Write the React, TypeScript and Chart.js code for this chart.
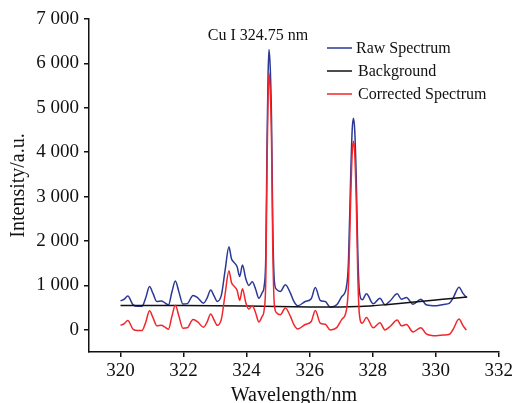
import React, { useEffect, useRef } from 'react';
import { Chart, registerables } from 'chart.js';

Chart.register(...registerables);

// ---- data ----
const wavelength = [
  320.00, 320.12, 320.23, 320.40, 320.55, 320.68, 320.80, 320.92, 321.03, 321.15,
  321.30, 321.40, 321.52, 321.63, 321.74, 321.85, 321.98, 322.12, 322.30, 322.45,
  322.63, 322.75, 322.86, 322.97, 323.07, 323.20, 323.32, 323.44, 323.52, 323.60,
  323.70, 323.78, 323.87, 323.97, 324.07, 324.18, 324.28, 324.39, 324.49, 324.56,
  324.61, 324.65, 324.68, 324.71, 324.75, 324.79, 324.83, 324.88, 324.95, 325.07,
  325.23, 325.39, 325.50, 325.62, 325.86, 326.05, 326.18, 326.34, 326.50, 326.65,
  326.86, 327.02, 327.16, 327.23, 327.30, 327.35, 327.39, 327.43, 327.48, 327.53,
  327.58, 327.67, 327.80, 328.02, 328.23, 328.39, 328.55, 328.78, 328.91, 329.07,
  329.28, 329.53, 329.70, 330.02, 330.25, 330.44, 330.55, 330.74, 330.86, 330.97,
];

const rawSpectrum = [
  650, 690, 760, 560, 530, 530, 720, 975, 820, 640,
  650, 610, 560, 850, 1100, 860, 580, 590, 775, 720,
  600, 720, 895, 760, 640, 780, 1350, 1870, 1600, 1520,
  1420, 1200, 1460, 1160, 1000, 1080, 930, 710, 830, 1000,
  1700, 4300, 5700, 6315, 5900, 4800, 2400, 1100, 910, 864,
  1013, 826, 640, 540, 637, 700, 950, 660, 637, 511,
  563, 750, 938, 1500, 3400, 4500, 4767, 4500, 3400, 1690,
  863, 675, 810, 585, 713, 563, 650, 810, 690, 727,
  578, 690, 563, 540, 570, 600, 713, 961, 826, 727,
];

const correctedSpectrum = [
  100, 140, 211, 11, -18, -18, 172, 427, 273, 93,
  103, 64, 14, 304, 555, 315, 35, 45, 231, 177,
  58, 179, 354, 220, 100, 241, 812, 1332, 1063, 983,
  884, 664, 925, 625, 466, 546, 397, 178, 299, 469,
  1170, 3770, 5170, 5786, 5371, 4271, 1872, 572, 383, 338,
  489, 304, 119, 20, 120, 186, 437, 148, 126, -2,
  49, 235, 420, 980, 2879, 3978, 4244, 3976, 2875, 1164,
  336, 145, 276, 44, 158, -2, 75, 219, 91, 117,
  -47, 48, -90, -133, -118, -99, 7, 242, 100, -7,
];

const backgroundWavelength = [320, 322, 324, 325, 326, 326.5, 327, 327.5, 328, 328.5, 329, 329.5, 330, 330.5, 331];
const background = [550, 545, 535, 527, 515, 511, 515, 525, 540, 572, 605, 640, 672, 703, 736];

const seriesLabels = ['Raw Spectrum', 'Background', 'Corrected Spectrum'];
const seriesColors = ['#2c3896', '#111111', '#f2262a'];

const xTicks = [320, 322, 324, 326, 328, 330, 332];
const yTicks = [0, 1000, 2000, 3000, 4000, 5000, 6000, 7000];
const yTickLabels = ['0', '1 000', '2 000', '3 000', '4 000', '5 000', '6 000', '7 000'];

const annotationText = 'Cu I 324.75 nm';
const annotationX = 324.36;
const annotationY = 6620;

const SERIF = "'Liberation Serif', 'Times New Roman', serif";

const overlayPlugin = {
  id: 'overlay',
  afterDraw(chart: any) {
    const ctx = chart.ctx;
    ctx.save();
    // annotation
    ctx.font = `16px ${SERIF}`;
    ctx.fillStyle = '#111';
    ctx.textAlign = 'center';
    ctx.textBaseline = 'middle';
    ctx.fillText(
      annotationText,
      chart.scales.x.getPixelForValue(annotationX),
      chart.scales.y.getPixelForValue(annotationY)
    );
    // legend
    const lx = 327;
    const len = 25;
    const rows = [48, 71, 94];
    ctx.textAlign = 'left';
    chart.data.datasets.forEach((ds: any, i: number) => {
      const y = rows[i];
      ctx.strokeStyle = ds.borderColor;
      ctx.lineWidth = 1.5;
      ctx.beginPath();
      ctx.moveTo(lx, y);
      ctx.lineTo(lx + len, y);
      ctx.stroke();
      ctx.fillStyle = '#111';
      ctx.fillText(ds.label, lx + len + (i === 0 ? 4 : 6), y + 1);
    });
    ctx.restore();
  },
};

export default function App() {
  const ref = useRef<HTMLCanvasElement | null>(null);

  useEffect(() => {
    if (!ref.current) return;
    const chart = new Chart(ref.current, {
      type: 'line',
      data: {
        datasets: [
          {
            label: seriesLabels[0],
            data: wavelength.map((x, i) => ({ x, y: rawSpectrum[i] })),
            borderColor: seriesColors[0],
            borderWidth: 1.5,
            pointRadius: 0,
            cubicInterpolationMode: 'monotone',
            order: 3,
          },
          {
            label: seriesLabels[1],
            data: backgroundWavelength.map((x, i) => ({ x, y: background[i] })),
            borderColor: seriesColors[1],
            borderWidth: 1.5,
            pointRadius: 0,
            cubicInterpolationMode: 'monotone',
            order: 2,
          },
          {
            label: seriesLabels[2],
            data: wavelength.map((x, i) => ({ x, y: correctedSpectrum[i] })),
            borderColor: seriesColors[2],
            borderWidth: 1.5,
            pointRadius: 0,
            cubicInterpolationMode: 'monotone',
            order: 1,
          },
        ],
      },
      options: {
        responsive: false,
        animation: false,
        devicePixelRatio: 1,
        layout: { padding: { top: 19, right: 15, left: 0, bottom: 0 } },
        plugins: { legend: { display: false }, tooltip: { enabled: false }, title: { display: false } },
        scales: {
          x: {
            type: 'linear',
            min: 319,
            max: 332,
            afterBuildTicks: (s: any) => { s.ticks = xTicks.map((v) => ({ value: v })); },
            afterFit: (s: any) => { s.height = 51; },
            border: { display: true, color: '#111', width: 1.5 },
            grid: { display: true, drawOnChartArea: false, drawTicks: true, tickLength: 5, color: '#111', lineWidth: 1.5 },
            ticks: {
              padding: 3,
              color: '#111',
              font: { family: SERIF, size: 19 },
              maxRotation: 0,
              callback: (v: any) => String(v),
            },
            title: {
              display: true,
              text: 'Wavelength/nm',
              color: '#111',
              font: { family: SERIF, size: 20, lineHeight: 1 },
              padding: { top: 0, bottom: -3 },
            },
          },
          y: {
            type: 'linear',
            min: -500,
            max: 7000,
            afterBuildTicks: (s: any) => { s.ticks = yTicks.map((v) => ({ value: v })); },
            afterFit: (s: any) => { s.width = 89; },
            border: { display: true, color: '#111', width: 1.5 },
            grid: { display: true, drawOnChartArea: false, drawTicks: true, tickLength: 5, color: '#111', lineWidth: 1.5 },
            ticks: {
              padding: 5,
              color: '#111',
              font: { family: SERIF, size: 19 },
              callback: (v: any) => yTickLabels[yTicks.indexOf(Number(v))] ?? '',
            },
            title: {
              display: true,
              text: 'Intensity/a.u.',
              color: '#111',
              font: { family: SERIF, size: 20, lineHeight: 1 },
              padding: { top: 9, bottom: 0 },
            },
          },
        },
      } as any,
      plugins: [overlayPlugin],
    });
    return () => chart.destroy();
  }, []);

  return (
    <div style={{ position: 'absolute', left: 0, top: 0, width: 516, height: 403, background: '#fff' }}>
      <canvas ref={ref} width={516} height={403} style={{ display: 'block' }} />
    </div>
  );
}
